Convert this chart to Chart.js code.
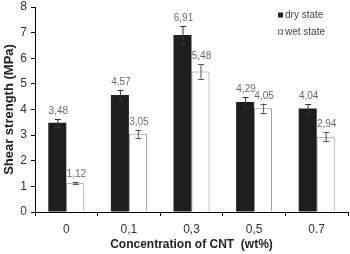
<!DOCTYPE html>
<html lang="en">
<head>
    <meta charset="UTF-8">
    <title>Shear strength vs CNT</title>
    <script src="https://cdn.jsdelivr.net/npm/chart.js"></script>
    <style>
        body { margin: 0; background: #fff; }
    </style>
</head>
<body>
    <canvas id="shearChart" width="350" height="254"></canvas>
    <script>
        // data
        const categories = ['0', '0,1', '0,3', '0,5', '0.7'];
        const dryValues = [3.48, 4.57, 6.91, 4.29, 4.04];
        const wetValues = [1.12, 3.05, 5.48, 4.05, 2.94];
        const dryErrors = [0.15, 0.2, 0.33, 0.2, 0.17];
        const wetErrors = [0.04, 0.15, 0.28, 0.18, 0.17];
        const seriesNames = ['dry state', 'wet state'];
        const yTicks = [0, 1, 2, 3, 4, 5, 6, 7, 8];

        const FONT = 'Arial, "Liberation Sans", sans-serif';

        // error bars + value labels + legend
        const barExtras = {
            id: 'barExtras',
            afterDatasetsDraw(chart) {
                const ctx = chart.ctx;
                const y = chart.scales.y;
                const errs = [dryErrors, wetErrors];
                const colors = ['#333', '#555'];
                ctx.save();
                chart.data.datasets.forEach((ds, di) => {
                    chart.getDatasetMeta(di).data.forEach((bar, i) => {
                        const v = ds.data[i];
                        const top = y.getPixelForValue(v + errs[di][i]);
                        const bot = y.getPixelForValue(v - errs[di][i]);
                        ctx.strokeStyle = colors[di];
                        ctx.lineWidth = 1;
                        ctx.beginPath();
                        ctx.moveTo(bar.x + 0.5, top);
                        ctx.lineTo(bar.x + 0.5, bot);
                        ctx.moveTo(bar.x - 2.5, Math.round(top) + 0.5);
                        ctx.lineTo(bar.x + 3.5, Math.round(top) + 0.5);
                        ctx.moveTo(bar.x - 2.5, Math.round(bot) + 0.5);
                        ctx.lineTo(bar.x + 3.5, Math.round(bot) + 0.5);
                        ctx.stroke();

                        ctx.fillStyle = '#6a6a6a';
                        ctx.font = '10px ' + FONT;
                        ctx.textAlign = 'center';
                        ctx.textBaseline = 'alphabetic';
                        ctx.fillText(v.toFixed(2).replace('.', ','), bar.x + 1, top - 5);
                    });
                });

                // legend in the top right corner
                const lx = 278;
                const ly = [15, 32];
                ctx.font = '10px ' + FONT;
                ctx.textAlign = 'left';
                ctx.textBaseline = 'middle';
                seriesNames.forEach((name, k) => {
                    if (k === 0) {
                        ctx.fillStyle = '#222';
                        ctx.fillRect(lx, ly[k] - 2.5, 5, 5);
                    } else {
                        ctx.strokeStyle = '#666';
                        ctx.strokeRect(lx + 0.5, ly[k] - 2, 4, 4);
                    }
                    ctx.fillStyle = '#444';
                    ctx.fillText(name, lx + 7, ly[k]);
                });
                ctx.restore();
            }
        };

        const ctx = document.getElementById('shearChart').getContext('2d');
        new Chart(ctx, {
            type: 'bar',
            data: {
                labels: categories,
                datasets: [{
                    label: seriesNames[0],
                    data: dryValues,
                    backgroundColor: '#1e1e1e',
                    borderWidth: 0,
                    categoryPercentage: 0.575,
                    barPercentage: 1
                }, {
                    label: seriesNames[1],
                    data: wetValues,
                    backgroundColor: '#ffffff',
                    borderColor: '#8a8a8a',
                    borderWidth: { top: 1, left: 1, right: 1, bottom: 0 },
                    categoryPercentage: 0.575,
                    barPercentage: 1
                }]
            },
            options: {
                responsive: false,
                animation: false,
                layout: { padding: { top: 7, right: 2, left: 0, bottom: 0 } },
                plugins: {
                    legend: { display: false },
                    tooltip: { enabled: false }
                },
                scales: {
                    x: {
                        grid: {
                            offset: true,
                            drawOnChartArea: false,
                            drawTicks: true,
                            tickLength: 4,
                            color: '#000'
                        },
                        border: { color: '#000', width: 1 },
                        ticks: {
                            color: '#333',
                            font: { family: FONT, size: 12 },
                            padding: 6
                        },
                        title: {
                            display: true,
                            text: 'Concentration of CNT  (wt%)',
                            color: '#222',
                            font: { family: FONT, size: 12, weight: 'bold' },
                            padding: { top: 0, bottom: 2 }
                        },
                        afterFit(scale) {
                            scale.height = 42;
                            scale.paddingLeft = 0;
                            scale.paddingRight = 0;
                        }
                    },
                    y: {
                        min: 0,
                        max: 8,
                        afterBuildTicks(scale) {
                            scale.ticks = yTicks.map(v => ({ value: v }));
                        },
                        grid: {
                            drawOnChartArea: false,
                            drawTicks: true,
                            tickLength: 4,
                            color: '#000'
                        },
                        border: { color: '#000', width: 1 },
                        ticks: {
                            color: '#333',
                            font: { family: FONT, size: 12 },
                            padding: 4
                        },
                        title: {
                            display: true,
                            text: 'Shear strength (MPa)',
                            color: '#222',
                            font: { family: FONT, size: 13, weight: 'bold' },
                            padding: { top: 2, bottom: 0 }
                        },
                        afterFit(scale) {
                            scale.width = 35;
                            scale.paddingTop = 0;
                            scale.paddingBottom = 0;
                        }
                    }
                }
            },
            plugins: [barExtras]
        });
    </script>
</body>
</html>
